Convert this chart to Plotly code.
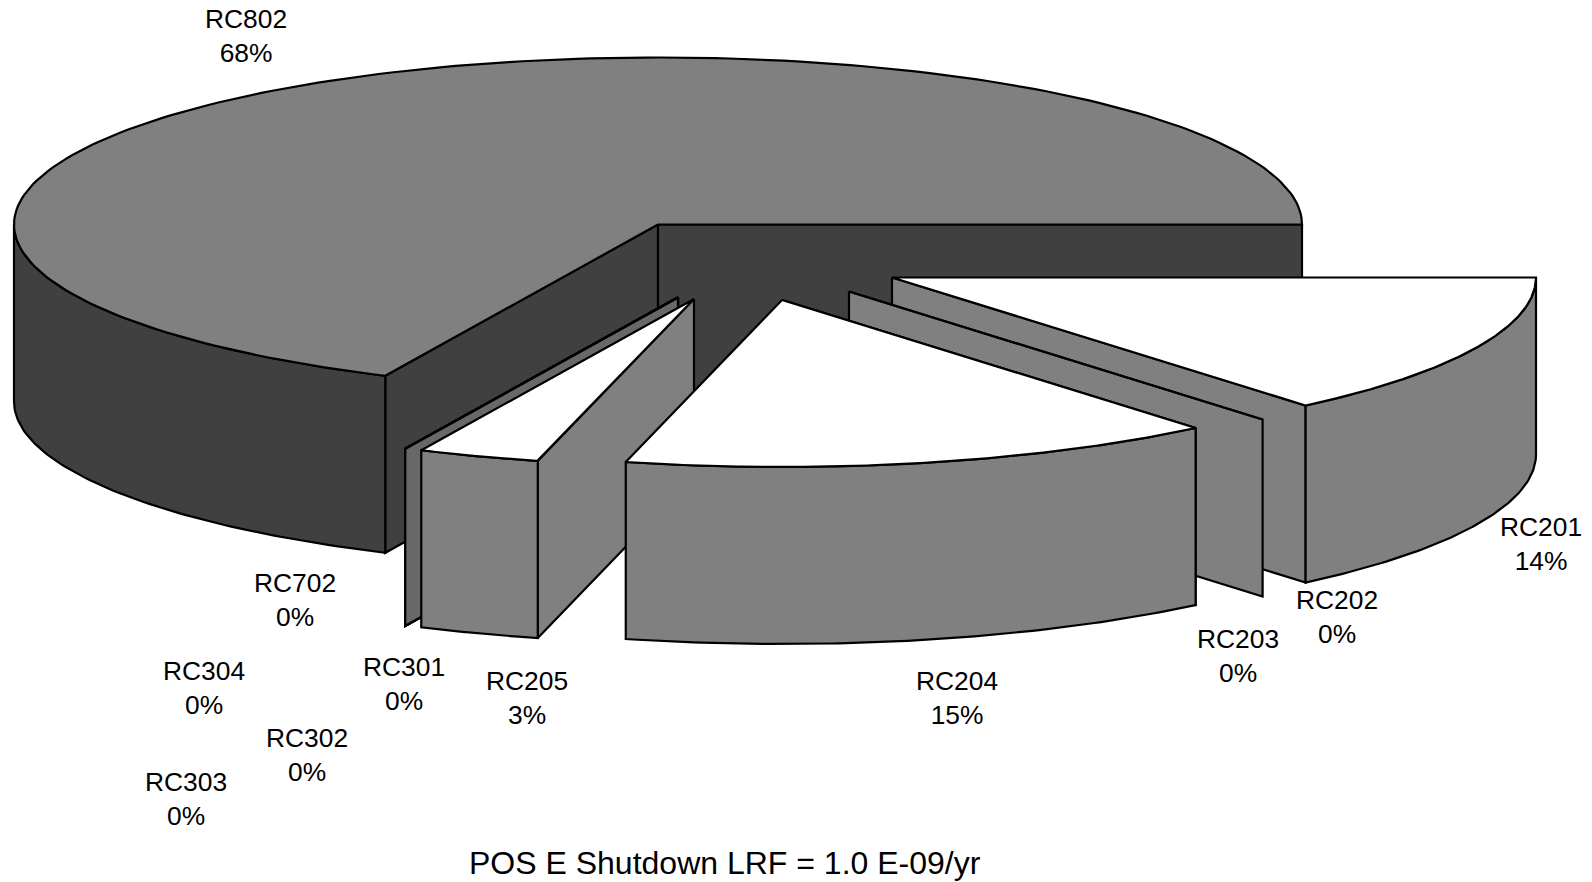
import numpy as np
import plotly.graph_objects as go

# Slices, clockwise from 3 o'clock
names = ['RC201', 'RC202', 'RC203', 'RC204', 'RC205', 'RC301', 'RC302', 'RC303', 'RC304', 'RC702', 'RC802']
shares = [13.9, 0, 0, 15, 3.06, 0, 0, 0, 0, 0, 68.04]
chart_title = 'POS E Shutdown LRF = 1.0 E-09/yr'

# Pie geometry, in page pixels
CX, CY = 658.0, 224.5
RX, RY = 644.0, 167.0
DEPTH = 177.0
LINE = dict(color='black', width=2.2)

# How far each slice is pulled out of the pie
pull_x = [234, 191, 124, 124, 36, 20, 20, 20, 20, 20, 0]
pull_y = [53, 67, 75.5, 75.5, 74.5, 73, 73, 73, 73, 73, 0]

top_colors = ['white'] * 10 + ['#808080']
side_colors = ['#808080'] * 5 + ['#686868'] * 5 + ['#404040']

# Label centres
label_x = [1541, 1337, 1238, 957, 527, 404, 307, 186, 204, 295, 246]
label_y = [544, 617, 656, 698, 698, 684, 755, 799, 688, 600, 36]

# Painter's order, back to front
draw_order = [10, 0, 1, 2, 9, 8, 7, 6, 5, 4, 3]

edges = np.cumsum([0] + shares) * 3.6

fig = go.Figure()


def add_poly(x, y, color):
    fig.add_trace(go.Scatter(x=x, y=y, mode='lines', fill='toself', fillcolor=color,
                             line=LINE, hoverinfo='skip', showlegend=False))


def rim(theta, ox, oy):
    t = np.radians(theta)
    return ox + RX * np.cos(t), oy + RY * np.sin(t)


def add_face(theta, ox, oy, color):
    rx, ry = rim(theta, ox, oy)
    add_poly([ox, rx, rx, ox, ox], [oy, ry, ry + DEPTH, oy + DEPTH, oy], color)


for i in draw_order:
    a0, a1 = edges[i], edges[i + 1]
    ox, oy = CX + pull_x[i], CY + pull_y[i]

    # only the cut faces turned toward the viewer
    if np.cos(np.radians(a0)) < 0:
        add_face(a0, ox, oy, side_colors[i])
    if np.cos(np.radians(a1)) > 0:
        add_face(a1, ox, oy, side_colors[i])

    # outer wall, front half of the rim only
    w0, w1 = max(a0, 0), min(a1, 180)
    if w1 > w0:
        wx, wy = rim(np.linspace(w0, w1, 80), ox, oy)
        add_poly(np.r_[wx, wx[::-1], wx[0]], np.r_[wy, wy[::-1] + DEPTH, wy[0]], side_colors[i])

    # top of the slice
    tx, ty = rim(np.linspace(a0, a1, 200), ox, oy)
    add_poly(np.r_[ox, tx, ox], np.r_[oy, ty, oy], top_colors[i])

for i, name in enumerate(names):
    fig.add_annotation(x=label_x[i], y=label_y[i], text=f'{name}<br>{shares[i]:.0f}%', showarrow=False,
                       xanchor='center', yanchor='middle',
                       font=dict(family='Liberation Sans', size=26.4, color='black'))

fig.add_annotation(x=725, y=863, text=chart_title, showarrow=False, xanchor='center', yanchor='middle',
                   font=dict(family='Liberation Sans', size=32, color='black'))

fig.update_layout(width=1592, height=882, margin=dict(l=0, r=0, t=0, b=0),
                  paper_bgcolor='white', plot_bgcolor='white', showlegend=False,
                  xaxis=dict(range=[0, 1592], visible=False, fixedrange=True),
                  yaxis=dict(range=[882, 0], visible=False, fixedrange=True))

# the default page margin would push the chart 8px off
fig.write_html('out.html', config=dict(displayModeBar=False),
               post_script="document.body.style.margin='0';")
